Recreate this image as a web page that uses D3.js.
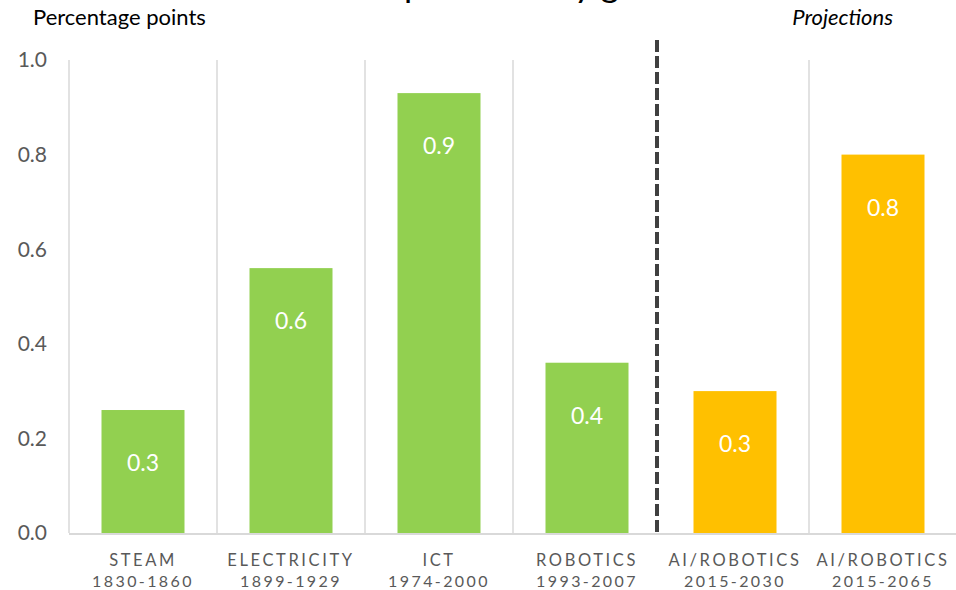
<!DOCTYPE html>
<html>
<head>
<meta charset="utf-8">
<script src="https://cdn.jsdelivr.net/npm/d3@7"></script>
<style>
body{margin:0;background:#fff;}
svg{display:block;font-family:Lato,"Open Sans",sans-serif;}
</style>
</head>
<body>
<svg id="chart"></svg>
<script>
var w = 956, h = 590;

// data
var names = ["STEAM","ELECTRICITY","ICT","ROBOTICS","AI/ROBOTICS","AI/ROBOTICS"];
var periods = ["1830-1860","1899-1929","1974-2000","1993-2007","2015-2030","2015-2065"];
var values = [0.26,0.56,0.93,0.36,0.30,0.80];
var labels = ["0.3","0.6","0.9","0.4","0.3","0.8"];
var projected = [false,false,false,false,true,true];
var yTicks = [0,0.2,0.4,0.6,0.8,1.0];

var green = "#92d050", orange = "#ffc000";

var margin = {top:60, right:0, bottom:57, left:69};

var svg = d3.select("#chart").attr("width",w).attr("height",h);

var x = d3.scaleBand()
	.domain(d3.range(names.length))
	.range([margin.left, w+1])
	.paddingInner(0)
	.paddingOuter(0);

var y = d3.scaleLinear()
	.domain([0,1])
	.range([h-margin.bottom, margin.top]);

// vertical grid lines between categories (the 5th is replaced by the dashed line)
var edges = d3.range(names.length+1).filter(function(i){ return i!=4; });
svg.selectAll("line.grid")
	.data(edges)
	.join("line")
	.attr("class","grid")
	.attr("x1",function(i){ return margin.left + i*x.bandwidth(); })
	.attr("x2",function(i){ return margin.left + i*x.bandwidth(); })
	.attr("y1",y(1))
	.attr("y2",y(0))
	.attr("stroke","#d9d9d9")
	.attr("stroke-width",1.5);

// baseline
svg.append("line")
	.attr("x1",margin.left).attr("x2",w)
	.attr("y1",y(0)+1).attr("y2",y(0)+1)
	.attr("stroke","#d9d9d9")
	.attr("stroke-width",2);

// bars
var barW = 83;
svg.selectAll("rect.bar")
	.data(values)
	.join("rect")
	.attr("class","bar")
	.attr("x",function(d,i){ return x(i) + (x.bandwidth()-barW)/2; })
	.attr("y",function(d){ return y(d); })
	.attr("width",barW)
	.attr("height",function(d){ return y(0)-y(d); })
	.attr("fill",function(d,i){ return projected[i] ? orange : green; });

// value labels inside bars
svg.selectAll("text.val")
	.data(values)
	.join("text")
	.attr("class","val")
	.attr("x",function(d,i){ return x(i) + x.bandwidth()/2; })
	.attr("y",function(d){ return y(d) + 53; })
	.attr("dy","0.35em")
	.attr("text-anchor","middle")
	.attr("font-size","23px")
	.attr("fill","#fff")
	.text(function(d,i){ return labels[i]; });

// dashed separator before projections
var sepX = margin.left + 4*x.bandwidth() - 4;
svg.append("line")
	.attr("x1",sepX).attr("x2",sepX)
	.attr("y1",40).attr("y2",y(0))
	.attr("stroke","#404040")
	.attr("stroke-width",4)
	.attr("stroke-dasharray","12,4");

// y axis labels
svg.selectAll("text.ytick")
	.data(yTicks)
	.join("text")
	.attr("class","ytick")
	.attr("x",47)
	.attr("y",function(d){ return y(d); })
	.attr("dy","0.35em")
	.attr("text-anchor","end")
	.attr("font-size","21px")
	.attr("fill","#595959")
	.text(function(d){ return d3.format(".1f")(d); });

// x axis labels (two lines)
var xl = svg.selectAll("g.xlab")
	.data(names)
	.join("g")
	.attr("class","xlab")
	.attr("transform",function(d,i){ return "translate(" + (x(i)+x.bandwidth()/2) + ",0)"; });
xl.append("text")
	.attr("y",566)
	.attr("text-anchor","middle")
	.attr("font-size","16.5px")
	.attr("letter-spacing","2.6px")
	.attr("fill","#595959")
	.text(function(d){ return d; });
xl.append("text")
	.attr("y",587)
	.attr("text-anchor","middle")
	.attr("font-size","16px")
	.attr("letter-spacing","2.4px")
	.attr("fill","#595959")
	.text(function(d,i){ return periods[i]; });

// small headers
svg.append("text")
	.attr("x",33).attr("y",25)
	.attr("font-size","22px")
	.attr("fill","#000")
	.text("Percentage points");

svg.append("text")
	.attr("x",893).attr("y",25)
	.attr("text-anchor","end")
	.attr("font-size","22px")
	.attr("font-style","italic")
	.attr("fill","#000")
	.text("Projections");

// main title, mostly above the frame: only descenders show
var titleA = svg.append("text")
	.attr("y",-3)
	.attr("text-anchor","end")
	.attr("font-size","36px")
	.attr("fill","#000")
	.text("Annual labour");
var titleB = svg.append("text")
	.attr("x",404).attr("y",-3)
	.attr("font-size","36px")
	.attr("fill","#000")
	.text("productivity growth");
// fit so the 'y' of productivity sits where it does in the source
var yPos = titleB.node().getStartPositionOfChar(11).x;
var fs = 36 * (574 - 404) / (yPos - 404);
titleB.attr("font-size", fs + "px");
titleA.attr("font-size", fs + "px").attr("x", 396);
</script>
</body>
</html>
